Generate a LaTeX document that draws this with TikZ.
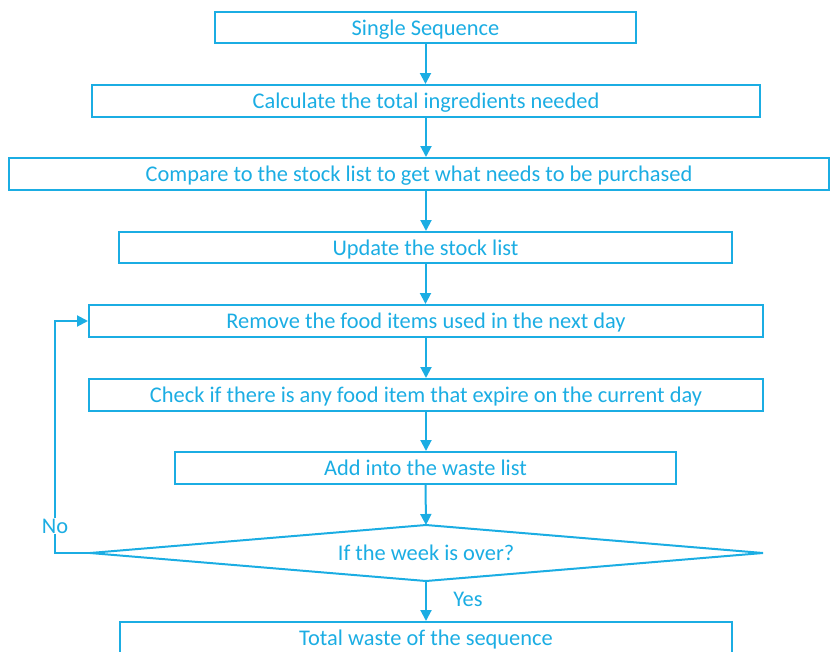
\documentclass[tikz,border=0pt]{standalone}
\usepackage{fontspec}
\setmainfont{Carlito}
\usetikzlibrary{arrows.meta}
\definecolor{cy}{HTML}{1BADE3}
\begin{document}
\begin{tikzpicture}[x=1pt,y=-1pt,
  every node/.style={text=cy, font=\fontsize{22.4}{26}\selectfont},
  box/.style={draw=cy, line width=2pt, rectangle, inner sep=0pt, text height=15pt, text depth=0pt},
  line/.style={draw=cy, line width=2pt, line join=miter},
  arr/.style={draw=cy, line width=2pt, -{Triangle[length=11pt,width=11pt]}},
  lbl/.style={fill=white, inner sep=1pt}]
\useasboundingbox (0,0) rectangle (830,651);
\node[box, minimum width=421, minimum height=31] (s1) at (425.5,27.5) {Single Sequence};
\node[box, minimum width=668, minimum height=32] (s2) at (426,101) {Calculate the total ingredients needed};
\node[box, minimum width=820, minimum height=32] (s3) at (419,174) {Compare to the stock list to get what needs to be purchased};
\node[box, minimum width=613, minimum height=31] (s4) at (425.5,247.5) {Update the stock list};
\node[box, minimum width=674, minimum height=32] (s5) at (426,321) {Remove the food items used in the next day};
\node[box, minimum width=674, minimum height=32] (s6) at (426,395) {Check if there is any food item that expire on the current day};
\node[box, minimum width=501, minimum height=32] (s7) at (425.5,468) {Add into the waste list};
\node[inner sep=0pt, text height=15pt, text depth=0pt] (s8) at (426,553) {If the week is over?};
\coordinate (dt) at (426,525);
\coordinate (db) at (426,581);
\coordinate (dl) at (90,553);
\coordinate (dr) at (763,553);
\draw[line] (dt) -- (dr) -- (db) -- (dl) -- cycle;
\node[box, minimum width=612, minimum height=32] (s9) at (426,638) {Total waste of the sequence};
\draw[arr] (s1.south) -- (s1.south |- s2.north);
\draw[arr] (s2.south) -- (s2.south |- s3.north);
\draw[arr] (s2.south |- s3.south) -- (s2.south |- s4.north);
\draw[arr] (s4.south) -- (s4.south |- s5.north);
\draw[arr] (s5.south) -- (s5.south |- s6.north);
\draw[arr] (s6.south) -- (s6.south |- s7.north);
\draw[arr] (s7.south) -- (dt);
\draw[arr] (db) -- (db |- s9.north);
\coordinate (c1) at (55,553);
\draw[arr] (dl) -- (c1) |- (s5.west);
\node[lbl] (no) at (55,526) {No};
\node (yes) at (468,599) {Yes};
\end{tikzpicture}
\end{document}
